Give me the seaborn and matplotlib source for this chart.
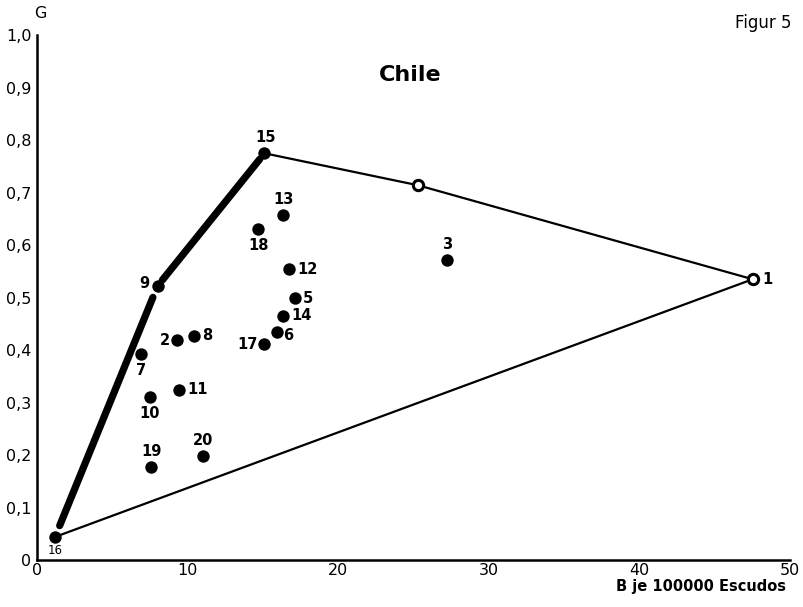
import numpy as np
import pandas as pd
import matplotlib
matplotlib.use('Agg')
import matplotlib.pyplot as plt
import seaborn as sns

# data (B in 100000 Escudos, G)
labels = ['1', '2', '3', '5', '6', '7', '8', '9', '10', '11', '12', '13', '14',
          '15', '16', '17', '18', '19', '20']
b_vals = [47.5, 9.3, 27.2, 17.1, 15.9, 6.9, 10.4, 8.0, 7.5, 9.4, 16.7, 16.3, 16.3,
          15.1, 1.2, 15.1, 14.7, 7.6, 11.0]
g_vals = [0.535, 0.419, 0.571, 0.499, 0.434, 0.392, 0.427, 0.522, 0.310, 0.324, 0.554,
          0.657, 0.465, 0.775, 0.044, 0.411, 0.630, 0.177, 0.198]
open_pts = ['1']

# efficiency frontier: thick part and thin part
thick_path = ['16', '9', '15']
thin_b = [15.1, 25.3, 47.5, 1.2]
thin_g = [0.775, 0.714, 0.535, 0.044]
mid_b = [25.3]
mid_g = [0.714]

# label placement (offset in points, ha, va)
label_pos = {
    '1': (7, 0, 'left', 'center'), '2': (-5, 0, 'right', 'center'),
    '3': (0, 6, 'center', 'bottom'), '5': (6, 0, 'left', 'center'),
    '6': (5, -2, 'left', 'center'), '7': (0, -6, 'center', 'top'),
    '8': (6, 0, 'left', 'center'), '9': (-6, 2, 'right', 'center'),
    '10': (0, -6, 'center', 'top'), '11': (6, 0, 'left', 'center'),
    '12': (6, 0, 'left', 'center'), '13': (1, 6, 'center', 'bottom'),
    '14': (6, 0, 'left', 'center'), '15': (1, 6, 'center', 'bottom'),
    '16': (0, -5, 'center', 'top'), '17': (-5, 0, 'right', 'center'),
    '18': (0, -6, 'center', 'top'), '19': (0, 6, 'center', 'bottom'),
    '20': (0, 6, 'center', 'bottom'),
}

df = pd.DataFrame({'label': labels, 'B': b_vals, 'G': g_vals})
df['open'] = df['label'].isin(open_pts)

sns.set_style('white')
plt.rcParams['font.family'] = ['DejaVu Sans']
plt.rcParams['text.color'] = 'black'

fig = plt.figure(figsize=(8.04, 6.07), dpi=100)
ax = fig.add_axes([0.046, 0.0774, 0.937, 0.8646])

# thin hull lines
ax.plot(thin_b, thin_g, color='black', lw=1.6, zorder=2)

# thick hull segments, slightly shortened at both ends
pts = df.set_index('label')
for a, b in zip(thick_path[:-1], thick_path[1:]):
    x0, y0 = pts.loc[a, 'B'], pts.loc[a, 'G']
    x1, y1 = pts.loc[b, 'B'], pts.loc[b, 'G']
    t = np.array([0.045, 0.955])
    ax.plot(x0 + t * (x1 - x0), y0 + t * (y1 - y0), color='black', lw=5.2,
            solid_capstyle='round', zorder=3)

# filled points
sns.scatterplot(data=df[~df['open']], x='B', y='G', color='black', s=80,
                edgecolor='black', linewidth=0, ax=ax, zorder=4, legend=False)
# open points
ax.scatter(list(df.loc[df['open'], 'B']) + mid_b, list(df.loc[df['open'], 'G']) + mid_g,
           s=55, facecolor='white', edgecolor='black', linewidth=2.2, zorder=4)

for _, r in df.iterrows():
    dx, dy, ha, va = label_pos[r['label']]
    fs = 8.5 if r['label'] == '16' else 10.5
    ax.annotate(r['label'], (r['B'], r['G']), xytext=(dx, dy), textcoords='offset points',
                ha=ha, va=va, fontsize=fs, color='black',
                fontweight='bold' if r['label'] != '16' else 'normal')

ax.set_xlim(0, 50)
ax.set_ylim(0, 1.0)
ax.set_xticks([0, 10, 20, 30, 40, 50])
ax.set_yticks(np.arange(0, 1.01, 0.1))
ax.set_yticklabels(['0'] + [f'{v:.1f}'.replace('.', ',') for v in np.arange(0.1, 1.01, 0.1)])
ax.tick_params(direction='in', length=7, width=1.5, labelsize=11.5, colors='black')
ax.tick_params(axis='y', pad=4)
ax.tick_params(axis='x', pad=2)
for s in ['top', 'right']:
    ax.spines[s].set_visible(False)
for s in ['left', 'bottom']:
    ax.spines[s].set_linewidth(1.8)
    ax.spines[s].set_color('black')
ax.set_xlabel('')
ax.set_ylabel('')

fig.text(0.977, 0.034, 'B je 100000 Escudos', ha='right', va='center', fontsize=10.5,
         fontweight='bold')
fig.text(0.05, 0.978, 'G', ha='center', va='center', fontsize=11.5)
fig.text(0.985, 0.962, 'Figur 5', ha='right', va='center', fontsize=12)
fig.text(0.51, 0.876, 'Chile', ha='center', va='center', fontsize=16, fontweight='bold')

fig.savefig('out.png', dpi=100)
